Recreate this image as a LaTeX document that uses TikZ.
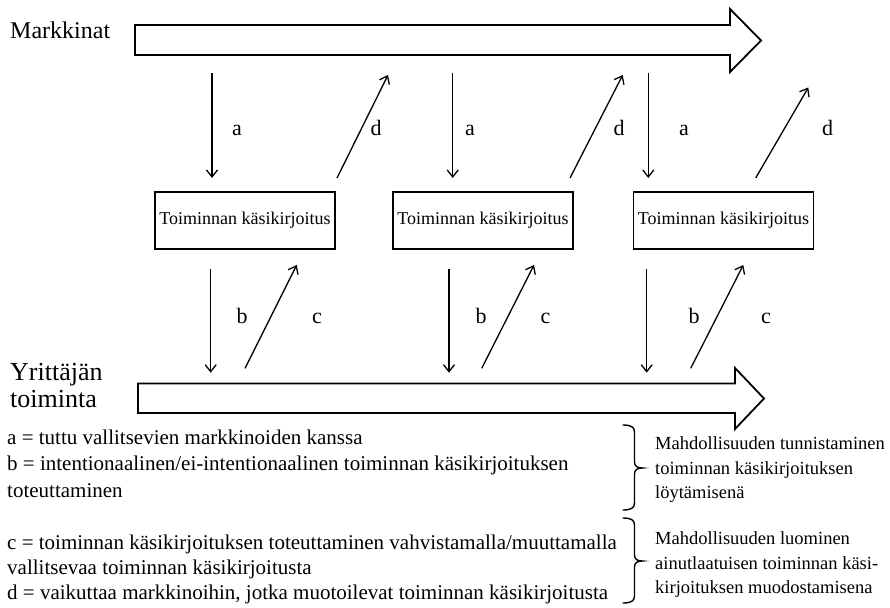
\documentclass[tikz,border=0pt]{standalone}
\usepackage{fontspec}
\setmainfont{Liberation Serif}
\usetikzlibrary{arrows.meta}
\begin{document}
\begin{tikzpicture}[x=1pt,y=-1pt,
  flow/.style={draw, line width=1.8pt, line join=miter, fill=white},
  link/.style={line width=1.3pt, -{Straight Barb[length=7pt,width=11pt,line width=1.3pt]}},
  scriptbox/.style={draw, line width=1.8pt, minimum width=180pt, minimum height=57pt,
    inner sep=0pt, font=\fontsize{18}{20}\selectfont},
  lbl/.style={anchor=base, inner sep=0pt, font=\fontsize{22}{24}\selectfont},
  head/.style={anchor=base west, inner sep=0pt, font=\fontsize{24}{28}\selectfont},
  headb/.style={anchor=base west, inner sep=0pt, font=\fontsize{26}{28}\selectfont},
  legend/.style={anchor=base west, inner sep=0pt, font=\fontsize{21}{26}\selectfont},
  note/.style={anchor=base west, inner sep=0pt, font=\fontsize{18.5}{24}\selectfont},
  grp/.style={draw, line width=1.4pt, line cap=round}
]
\useasboundingbox (0,0) rectangle (890,607);

% broad flow arrows: the markets and the entrepreneur's activity
\draw[flow] (135,25) -- (730,25) -- (730,9) -- (761,40.5) -- (730,72) -- (730,55) -- (135,55) -- cycle;
\draw[flow] (138,383.5) -- (735,383.5) -- (735,368) -- (764,398.5) -- (735,429) -- (735,413) -- (138,413) -- cycle;

\node[head] (mk) at (10,39) {Markkinat};
\node[headb] (yt1) at (10,380) {Yrittäjän};
\node[headb] (yt2) at (10,407) {toiminta};

% the three scripts
\node[scriptbox] (s1) at (245,220.5) {Toiminnan käsikirjoitus};
\node[scriptbox] (s2) at (483,220.5) {Toiminnan käsikirjoitus};
\node[scriptbox] (s3) at (723.5,220.5) {Toiminnan käsikirjoitus};

% end points of the thin connectors
\coordinate (a1s) at (212,73);    \coordinate (a1e) at (212,178);
\coordinate (a2s) at (452.7,73);  \coordinate (a2e) at (452.7,178);
\coordinate (a3s) at (648.3,73);  \coordinate (a3e) at (648.3,178);
\coordinate (d1s) at (337,178);   \coordinate (d1e) at (388,75);
\coordinate (d2s) at (570,178);   \coordinate (d2e) at (622.7,75);
\coordinate (d3s) at (755.7,178); \coordinate (d3e) at (808.3,87.5);
\coordinate (b1s) at (210.7,269); \coordinate (b1e) at (210.7,372.7);
\coordinate (b2s) at (449,269);   \coordinate (b2e) at (449,372.7);
\coordinate (b3s) at (646.7,269); \coordinate (b3e) at (646.7,372.7);
\coordinate (c1s) at (245,368.3);   \coordinate (c1e) at (296.7,265);
\coordinate (c2s) at (481.7,368.3); \coordinate (c2e) at (534,265);
\coordinate (c3s) at (690.7,368.3); \coordinate (c3e) at (743.3,265);

\foreach \n in {a1,a2,a3,d1,d2,d3,b1,b2,b3,c1,c2,c3}
  \draw[link] (\n s) -- (\n e);

% connector letters
\node[lbl] (la1) at (237,135) {a};
\node[lbl] (la2) at (470,135) {a};
\node[lbl] (la3) at (684,135) {a};
\node[lbl] (ld1) at (376,135) {d};
\node[lbl] (ld2) at (619,135) {d};
\node[lbl] (ld3) at (827.5,135) {d};
\node[lbl] (lb1) at (242,323) {b};
\node[lbl] (lb2) at (481,323) {b};
\node[lbl] (lb3) at (694,323) {b};
\node[lbl] (lc1) at (317,323) {c};
\node[lbl] (lc2) at (545.5,323) {c};
\node[lbl] (lc3) at (766,323) {c};

% legend
\node[legend] (k1) at (7,444) {a = tuttu vallitsevien markkinoiden kanssa};
\node[legend] (k2) at (7,470) {b = intentionaalinen/ei-intentionaalinen toiminnan käsikirjoituksen};
\node[legend] (k3) at (7,497) {toteuttaminen};
\node[legend] (k4) at (7,549) {c = toiminnan käsikirjoituksen toteuttaminen vahvistamalla/muuttamalla};
\node[legend] (k5) at (7,574) {vallitsevaa toiminnan käsikirjoitusta};
\node[legend] (k6) at (7,599) {d = vaikuttaa markkinoihin, jotka muotoilevat toiminnan käsikirjoitusta};

% grouping braces: square-shouldered with a small point at the middle
\foreach \t/\m/\b in {425/468/510, 518/561/603} {
  \draw[grp] (623,\t) .. controls (631,\t) and (634.5,\t+2) .. (634.5,\t+7)
    -- (634.5,\m-6) .. controls (634.5,\m-2) and (637,\m) .. (642.5,\m)
    .. controls (637,\m) and (634.5,\m+2) .. (634.5,\m+6)
    -- (634.5,\b-7) .. controls (634.5,\b-2) and (631,\b) .. (623,\b);
}

\node[note] (n1) at (655,449) {Mahdollisuuden tunnistaminen};
\node[note] (n2) at (655,474) {toiminnan käsikirjoituksen};
\node[note] (n3) at (655,498) {löytämisenä};
\node[note] (n4) at (655,544) {Mahdollisuuden luominen};
\node[note] (n5) at (655,569) {ainutlaatuisen toiminnan käsi-};
\node[note] (n6) at (655,593) {kirjoituksen muodostamisena};
\end{tikzpicture}
\end{document}
